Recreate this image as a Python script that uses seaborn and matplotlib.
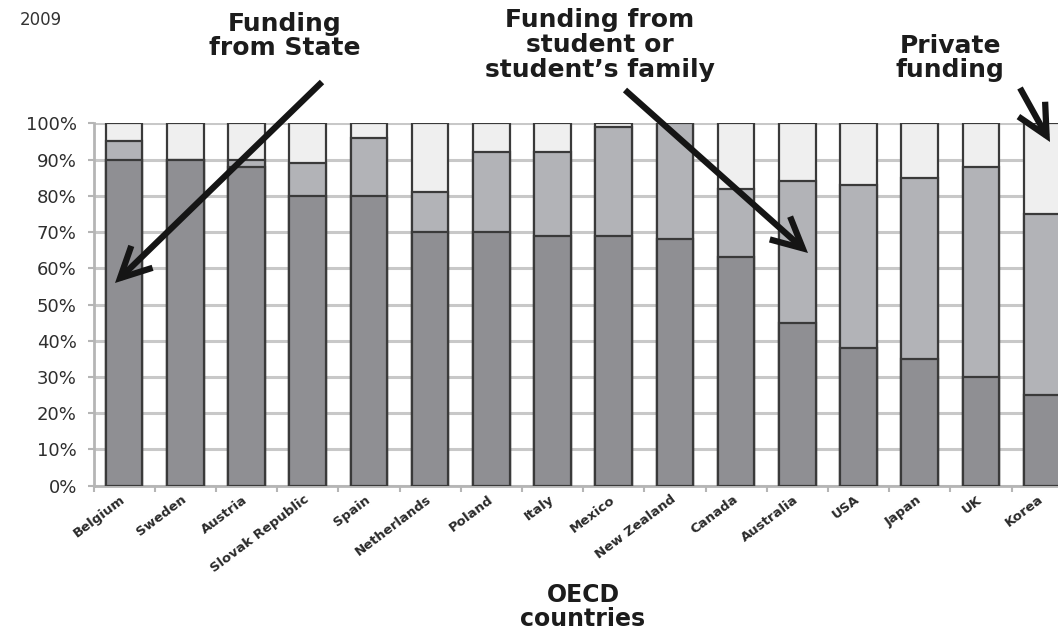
import matplotlib
matplotlib.use("Agg")
import matplotlib.pyplot as plt
import numpy as np
import seaborn as sns

# Sources of funding for tertiary education, 2009 (% of total)
countries = ["Belgium", "Sweden", "Austria", "Slovak Republic", "Spain",
             "Netherlands", "Poland", "Italy", "Mexico", "New Zealand",
             "Canada", "Australia", "USA", "Japan", "UK", "Korea"]
state = [90, 90, 88, 80, 80, 70, 70, 69, 69, 68, 63, 45, 38, 35, 30, 25]
student = [5, 0, 2, 9, 16, 11, 22, 23, 30, 32, 19, 39, 45, 50, 58, 50]
private = [5, 10, 10, 11, 4, 19, 8, 8, 1, 0, 18, 16, 17, 15, 12, 25]
y_ticks = [0, 10, 20, 30, 40, 50, 60, 70, 80, 90, 100]

state_col = "#8f8f93"
student_col = "#b2b3b7"
private_col = "#efefef"
edge_col = "#3a3a3a"
grid_col = "#c8c8c8"

sns.set_style("white")
plt.rcParams["font.family"] = ["DejaVu Sans"]

W, H = 1058, 631
fig = plt.figure(figsize=(W / 100, H / 100), dpi=100)

# axes extends a little past the right edge of the canvas
left_px, right_px = 93.5, 1072.7
top_px, bottom_px = 123.3, 485.7
ax = fig.add_axes([left_px / W, (H - bottom_px) / H,
                   (right_px - left_px) / W, (bottom_px - top_px) / H])

s_arr = np.array(state, dtype=float)
st_arr = np.array(student, dtype=float)
p_arr = np.array(private, dtype=float)
level_total = s_arr + st_arr + p_arr
level_student = s_arr + st_arr

common = dict(x=countries, order=countries, width=0.6, saturation=1,
              edgecolor=edge_col, linewidth=1.6, ax=ax, zorder=3)
sns.barplot(y=level_total, color=private_col, **common)
sns.barplot(y=level_student, color=student_col, **common)
sns.barplot(y=s_arr, color=state_col, **common)

ax.set_xlim(-0.5, len(countries) - 0.5)
ax.set_ylim(0, 100)
ax.set_yticks(y_ticks)
ax.set_yticklabels([f"{v}%" for v in y_ticks], fontsize=13, color="#2e2e2e")
ax.yaxis.grid(True, color=grid_col, lw=2.2, zorder=0)
ax.xaxis.grid(False)
ax.set_axisbelow(True)

for side in ["top", "right"]:
    ax.spines[side].set_visible(False)
for side in ["left", "bottom"]:
    ax.spines[side].set_color("#b5b5b5")
    ax.spines[side].set_linewidth(2)

ax.tick_params(axis="y", length=4, width=1.5, color="#b5b5b5", pad=8, left=True)
ax.set_xticks(np.arange(len(countries)))
ax.set_xticklabels(countries, rotation=37, ha="right", va="center",
                   rotation_mode="anchor", fontsize=9.5, fontweight="bold",
                   color="#2a2a2a")
ax.tick_params(axis="x", which="major", length=0, pad=9)
ax.set_xticks(np.arange(len(countries) + 1) - 0.5, minor=True)
ax.tick_params(axis="x", which="minor", length=4, width=1.5, color="#b5b5b5",
               bottom=True)
ax.set_xlabel("")
ax.set_ylabel("")


def fx(px):
    return px / W


def fy(py):
    return (H - py) / H


txt = "#1c1c1c"
fig.text(fx(583), fy(607), "OECD\ncountries", ha="center", va="center",
         fontsize=17, fontweight="bold", color=txt, linespacing=1.05)
fig.text(fx(20), fy(20), "2009", ha="left", va="center", fontsize=12,
         color="#333333")

fig.text(fx(285), fy(36), "Funding\nfrom State", ha="center", va="center",
         fontsize=18, fontweight="bold", color=txt, linespacing=1.05)
fig.text(fx(600), fy(45), "Funding from\nstudent or\nstudent\u2019s family",
         ha="center", va="center", fontsize=18, fontweight="bold", color=txt,
         linespacing=1.05)
fig.text(fx(950), fy(58), "Private\nfunding", ha="center", va="center",
         fontsize=18, fontweight="bold", color=txt, linespacing=1.05)

arrow_kw = dict(arrowstyle="->,head_length=1.1,head_width=0.55",
                mutation_scale=20, lw=4.5, color="#151515",
                shrinkA=0, shrinkB=0, capstyle="butt", joinstyle="miter")
for (x0, y0), (x1, y1) in [((322, 82), (115, 283)),
                           ((625, 90), (808, 253)),
                           ((1020, 88), (1050, 142))]:
    fig.add_artist(matplotlib.patches.FancyArrowPatch(
        (fx(x0), fy(y0)), (fx(x1), fy(y1)), transform=fig.transFigure,
        **arrow_kw))

fig.savefig("out.png", dpi=100)
